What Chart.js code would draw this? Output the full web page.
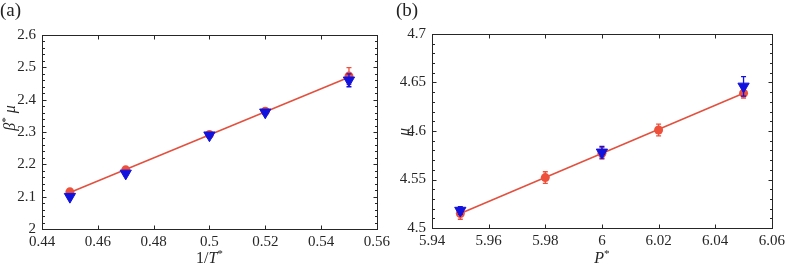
<!DOCTYPE html>
<html><head><meta charset="utf-8">
<script src="https://cdn.jsdelivr.net/npm/chart.js@4"></script>
<style>
html,body{margin:0;padding:0;background:#fff;}
#wrap{position:relative;width:789px;height:268px;overflow:hidden;background:#fff;}
canvas{position:absolute;top:0;}
#a{left:0;}
#b{left:394px;}
.lab{position:absolute;top:-1px;font:19px 'Liberation Serif',serif;color:#222;line-height:22px;}
</style></head><body>
<div id="wrap">
<canvas id="a" width="394" height="268"></canvas>
<canvas id="b" width="395" height="268"></canvas>
<div class="lab" style="left:0px">(a)</div>
<div class="lab" style="left:396px">(b)</div>
</div>
<script>
// ---- panel (a) data ----
const xTicksA = ['0.44','0.46','0.48','0.5','0.52','0.54','0.56'];
const yTicksA = ['2','2.1','2.2','2.3','2.4','2.5','2.6'];
const invT     = [0.45, 0.47, 0.50, 0.52, 0.55];
const circA    = [2.115, 2.183, 2.292, 2.364, 2.473];
const circErrA = [0.008, 0.006, 0.005, 0.005, 0.026];
const triA     = [2.100, 2.172, 2.290, 2.361, 2.460];
const triErrA  = [0.005, 0.005, 0.004, 0.004, 0.020];
const fitXA    = [0.45, 0.55];
const fitYA    = [2.113, 2.469];

// ---- panel (b) data ----
const xTicksB = ['5.94','5.96','5.98','6','6.02','6.04','6.06'];
const yTicksB = ['4.5','4.55','4.6','4.65','4.7'];
const pStar    = [5.95, 5.98, 6.00, 6.02, 6.05];
const circB    = [4.515, 4.552, 4.577, 4.601, 4.639];
const circErrB = [0.006, 0.006, 0.006, 0.006, 0.005];
const pTri     = [5.95, 6.00, 6.05];
const triB     = [4.518, 4.578, 4.646];
const triErrB  = [0.004, 0.006, 0.010];
const fitXB    = [5.95, 6.05];
const fitYB    = [4.515, 4.639];

const RED = '#ee513b', LINE = '#e2513f', BLUE = '#1212de', AX = '#262626';
const FONT = "'Liberation Serif', 'Times New Roman', serif";

const pts = (xs, ys) => xs.map((x, i) => ({x, y: ys[i]}));

const errPlugin = {
  id: 'errbars',
  beforeDatasetDraw(chart, args) {
    const ds = chart.data.datasets[args.index];
    if (!ds.errors) return;
    const {ctx, scales: {x, y}} = chart;
    ctx.save();
    ctx.strokeStyle = ds.errColor; ctx.lineWidth = 1.3;
    ds.data.forEach((p, i) => {
      const e = ds.errors[i];
      const px = x.getPixelForValue(p.x);
      const y1 = y.getPixelForValue(p.y + e), y2 = y.getPixelForValue(p.y - e);
      ctx.beginPath();
      ctx.moveTo(px, y1); ctx.lineTo(px, y2);
      ctx.moveTo(px - 2.5, y1); ctx.lineTo(px + 2.5, y1);
      ctx.moveTo(px - 2.5, y2); ctx.lineTo(px + 2.5, y2);
      ctx.stroke();
    });
    ctx.restore();
  }
};

const framePlugin = {
  id: 'frame',
  afterDraw(chart, args, o) {
    const {ctx, chartArea: {left, right, top, bottom}, scales: {x, y}} = chart;
    ctx.save();
    ctx.strokeStyle = AX; ctx.lineWidth = 1;
    const L = Math.round(left) + 0.5, R = Math.round(right) + 0.5;
    const T = Math.round(top) + 0.5, B = Math.round(bottom) + 0.5;
    ctx.strokeRect(L, T, R - L, B - T);
    ctx.beginPath();
    x.ticks.forEach(t => {
      const px = Math.round(x.getPixelForValue(t.value)) + 0.5;
      ctx.moveTo(px, B); ctx.lineTo(px, B - 4);
      ctx.moveTo(px, T); ctx.lineTo(px, T + 4);
    });
    const n = Math.round((y.max - y.min) / o.yMinor);
    for (let i = 0; i <= n; i++) {
      const v = y.min + i * o.yMinor;
      const py = Math.round(y.getPixelForValue(v)) + 0.5;
      const major = Math.abs(((v - y.min) / o.yMajor) - Math.round((v - y.min) / o.yMajor)) < 1e-6;
      const len = major ? 4 : 2.5;
      ctx.moveTo(L, py); ctx.lineTo(L + len, py);
      ctx.moveTo(R, py); ctx.lineTo(R - len, py);
    }
    ctx.stroke();

    // axis titles with mixed styles
    const drawParts = (parts, size) => {
      let w = 0;
      parts.forEach(p => {
        ctx.font = (p.it ? 'italic ' : '') + (p.sup ? size * 0.7 : size) + 'px ' + FONT;
        p.w = ctx.measureText(p.t).width; w += p.w;
      });
      let cx = -w / 2;
      parts.forEach(p => {
        ctx.font = (p.it ? 'italic ' : '') + (p.sup ? size * 0.7 : size) + 'px ' + FONT;
        ctx.fillText(p.t, cx, p.sup ? -size * 0.28 : 0);
        cx += p.w;
      });
    };
    ctx.fillStyle = AX; ctx.textBaseline = 'middle'; ctx.textAlign = 'left';
    ctx.save();
    ctx.translate((left + right) / 2, o.xTitleY);
    drawParts(o.xTitle, 16);
    ctx.restore();
    ctx.save();
    ctx.translate(o.yTitleX, o.yTitleY);
    ctx.rotate(-Math.PI / 2);
    drawParts(o.yTitle, 16);
    ctx.restore();
    ctx.restore();
  }
};

function makeChart(id, cfg) {
  const fmt = labels => (v, i) => labels[i];
  return new Chart(document.getElementById(id), {
    type: 'scatter',
    data: {
      datasets: [
        {label: 'tri', data: pts(cfg.triX, cfg.triY), errors: cfg.triErr, errColor: BLUE,
         pointStyle: 'triangle', rotation: 180, pointRadius: 6.5, pointHoverRadius: 6.5,
         backgroundColor: BLUE, borderColor: BLUE, borderWidth: 1, order: 0},
        {label: 'circ', data: pts(cfg.circX, cfg.circY), errors: cfg.circErr, errColor: RED,
         pointStyle: 'circle', pointRadius: 4.5, pointHoverRadius: 4.5,
         backgroundColor: RED, borderColor: RED, borderWidth: 0, order: 1},
        {label: 'fit', type: 'line', data: pts(cfg.fitX, cfg.fitY), showLine: true,
         pointRadius: 0, borderColor: LINE, borderWidth: 1.6, fill: false, order: 2}
      ]
    },
    options: {
      responsive: false, animation: false, devicePixelRatio: 1,
      layout: {padding: cfg.pad},
      plugins: {legend: {display: false}, tooltip: {enabled: false},
        frame: cfg.frame},
      scales: {
        x: {type: 'linear', min: cfg.xmin, max: cfg.xmax,
          ticks: {stepSize: cfg.xstep, padding: 4, color: AX, autoSkip: false, maxRotation: 0,
            font: {family: FONT, size: 15}, callback: fmt(cfg.xTicks)},
          grid: {display: false, drawTicks: false}, border: {display: false},
          afterFit(s) { s.height = cfg.xh; }},
        y: {type: 'linear', min: cfg.ymin, max: cfg.ymax,
          ticks: {stepSize: cfg.ystep, padding: 6, color: AX, autoSkip: false,
            font: {family: FONT, size: 15}, callback: fmt(cfg.yTicks)},
          grid: {display: false, drawTicks: false}, border: {display: false},
          afterFit(s) { s.width = cfg.yw; }}
      }
    },
    plugins: [errPlugin, framePlugin]
  });
}

makeChart('a', {
  triX: invT, triY: triA, triErr: triErrA,
  circX: invT, circY: circA, circErr: circErrA,
  fitX: fitXA, fitY: fitYA,
  xmin: 0.44, xmax: 0.56, xstep: 0.02, xTicks: xTicksA,
  ymin: 2, ymax: 2.6, ystep: 0.1, yTicks: yTicksA,
  pad: {left: 0, right: 17, top: 35, bottom: 0}, xh: 39, yw: 42,
  frame: {yMinor: 0.02, yMajor: 0.1, xTitleY: 259, yTitleX: 11, yTitleY: 118,
    xTitle: [{t: '1/'}, {t: 'T', it: true}, {t: '*', sup: true}],
    yTitle: [{t: 'β', it: true}, {t: '*', sup: true}, {t: ' μ', it: true}]}
});

makeChart('b', {
  triX: pTri, triY: triB, triErr: triErrB,
  circX: pStar, circY: circB, circErr: circErrB,
  fitX: fitXB, fitY: fitYB,
  xmin: 5.94, xmax: 6.06, xstep: 0.02, xTicks: xTicksB,
  ymin: 4.5, ymax: 4.7, ystep: 0.05, yTicks: yTicksB,
  pad: {left: 0, right: 14, top: 34, bottom: 0}, xh: 40, yw: 38,
  frame: {yMinor: 0.01, yMajor: 0.05, xTitleY: 259, yTitleX: 11, yTitleY: 132,
    xTitle: [{t: 'P', it: true}, {t: '*', sup: true}],
    yTitle: [{t: 'μ', it: true}]}
});
</script>
</body></html>
